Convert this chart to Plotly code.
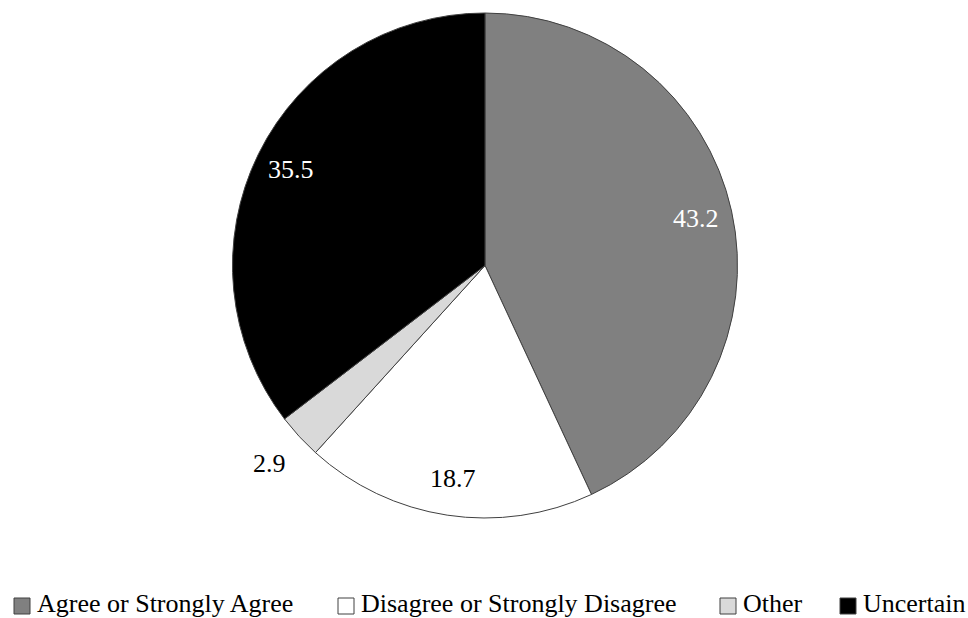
import math
import plotly.graph_objects as go

# Survey response shares (percent)
labels = ["Agree or Strongly Agree", "Disagree or Strongly Disagree", "Other", "Uncertain"]
values = [43.2, 18.7, 2.9, 35.5]
colors = ["#808080", "#ffffff", "#d9d9d9", "#000000"]
label_colors = ["#ffffff", "#000000", "#000000", "#ffffff"]
label_outside = [False, False, True, False]

W, H = 968, 618
FONT = "Liberation Serif"

# Pie geometry (pixels)
cx, cy, r = 485, 265.5, 252.5

fig = go.Figure(
    go.Pie(
        labels=labels,
        values=values,
        sort=False,
        direction="clockwise",
        rotation=0,
        marker=dict(colors=colors, line=dict(color="#404040", width=1)),
        textinfo="none",
        hoverinfo="label+value",
        showlegend=False,
        domain=dict(x=[(cx - r) / W, (cx + r) / W], y=[1 - (cy + r) / H, 1 - (cy - r) / H]),
    )
)

# Value labels placed along each slice's mid-angle
total = sum(values)
cum = 0.0
annotations = []
for v, col, outside in zip(values, label_colors, label_outside):
    mid = (cum + v / 2) / total * 2 * math.pi
    cum += v
    rr = r * (1.16 if outside else 0.855)
    px = cx + rr * math.sin(mid)
    py = cy - rr * math.cos(mid)
    annotations.append(dict(
        x=px / W, y=1 - py / H, xref="paper", yref="paper",
        text=f"{v:.1f}", showarrow=False, xanchor="center", yanchor="middle",
        font=dict(family=FONT, size=26, color=col),
    ))

# Legend row along the bottom
legend_x = [14, 338, 720, 840]
box = 16
legend_y = 603
shapes = []
for lx, lab, c in zip(legend_x, labels, colors):
    shapes.append(dict(
        type="rect", xref="paper", yref="paper",
        x0=lx / W, x1=(lx + box) / W,
        y0=1 - (606 + box / 2) / H, y1=1 - (606 - box / 2) / H,
        fillcolor=c, line=dict(color="#404040", width=1),
    ))
    annotations.append(dict(
        x=(lx + box + 5) / W, y=1 - legend_y / H, xref="paper", yref="paper",
        text=lab, showarrow=False, xanchor="left", yanchor="middle",
        font=dict(family=FONT, size=26, color="#000000"),
    ))

fig.update_layout(
    width=W, height=H,
    margin=dict(l=0, r=0, t=0, b=0),
    paper_bgcolor="#ffffff",
    plot_bgcolor="#ffffff",
    font=dict(family=FONT),
    annotations=annotations,
    shapes=shapes,
)

fig.write_html("out.html")
